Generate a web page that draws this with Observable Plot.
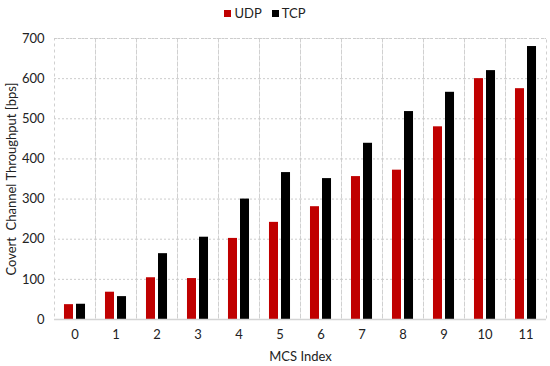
<!DOCTYPE html>
<html>
<head>
<meta charset="utf-8">
<script src="https://cdn.jsdelivr.net/npm/d3@7"></script>
<script src="https://cdn.jsdelivr.net/npm/@observablehq/plot@0.6"></script>
<style>
  body { margin: 0; background: #fff; font-family: Lato, "Open Sans", sans-serif; }
  #legend { height: 26px; display: flex; justify-content: center; align-items: center; gap: 10px; padding-right: 20px; font-size: 13px; color: #222; }
  #legend span.sw { display: inline-block; width: 7px; height: 7px; margin-right: 3px; }
  #legend .item { display: flex; align-items: center; }
</style>
</head>
<body>
<div id="legend"></div>
<div id="chart"></div>
<script>
const mcs = [0, 1, 2, 3, 4, 5, 6, 7, 8, 9, 10, 11];
const udp = [37, 68, 104, 102, 202, 242, 281, 356, 372, 480, 600, 575];
const tcp = [38, 57, 164, 205, 300, 366, 351, 439, 518, 566, 620, 680];
const series = ["UDP", "TCP"];
const colors = ["#C00000", "#000000"];
const yTicks = [0, 100, 200, 300, 400, 500, 600, 700];

const data = mcs.flatMap((m, i) => [
  {mcs: m, proto: "UDP", v: udp[i]},
  {mcs: m, proto: "TCP", v: tcp[i]}
]);

const legend = document.getElementById("legend");
series.forEach((s, i) => {
  const it = document.createElement("div");
  it.className = "item";
  it.innerHTML = `<span class="sw" style="background:${colors[i]}"></span>${s}`;
  legend.appendChild(it);
});

const chart = Plot.plot({
  width: 550,
  height: 340,
  marginTop: 12,
  marginBottom: 47,
  marginLeft: 54,
  marginRight: 4,
  style: {fontFamily: "Lato, 'Open Sans', sans-serif", fontSize: "13px", color: "#222", background: "#fff"},
  facet: {data, x: "mcs"},
  fx: {padding: 0, label: "MCS Index", labelArrow: "none", labelAnchor: "center", labelOffset: 41, tickSize: 0, tickPadding: 10, axis: "bottom"},
  x: {domain: series, paddingInner: 0.25, paddingOuter: 0.83, axis: null, round: false},
  y: {domain: [0, 700], ticks: yTicks, tickSize: 0, tickPadding: 10, label: "Covert  Channel Throughput [bps]", labelArrow: "none", labelAnchor: "center", labelOffset: 48},
  color: {domain: series, range: colors},
  marks: [
    Plot.frame({stroke: "#d0d0d0", strokeDasharray: "3,3"}),
    Plot.ruleY(yTicks.slice(1), {stroke: "#cccccc", strokeDasharray: "2,2"}),
    Plot.barY(data, {x: "proto", y: "v", fill: "proto"}),
    Plot.ruleY([0], {stroke: "#d4d4d4", strokeWidth: 1.5})
  ]
});
document.getElementById("chart").appendChild(chart);
</script>
</body>
</html>
